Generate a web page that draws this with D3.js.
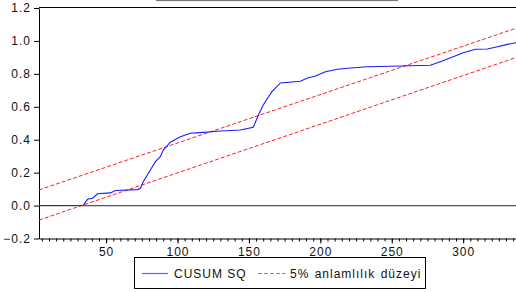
<!DOCTYPE html>
<html>
<head>
<meta charset="utf-8">
<script src="https://cdn.jsdelivr.net/npm/d3@7"></script>
<style>
  body { margin: 0; background: #fff; }
  svg { display: block; }
  text { font-family: "Liberation Sans", Arial, sans-serif; font-size: 12px; letter-spacing: 1px; fill: #111; }
</style>
</head>
<body>
<svg id="chart" width="516" height="293"></svg>
<script>
const obs = [3, 34, 37, 40.5, 44, 53, 56.5, 72, 74, 76, 81, 84.5, 88, 90, 95, 102, 109, 116, 130, 144, 153,
  156.7, 160, 163.7, 166, 172, 186, 191, 196.6, 203.6, 212, 221, 233, 256, 277, 284, 293, 300, 308.6, 317, 324, 331, 337];
const cusumSq = [0.0, 0.002, 0.038, 0.045, 0.072, 0.077, 0.092, 0.097, 0.105, 0.145, 0.216, 0.267, 0.297, 0.337, 0.385,
  0.418, 0.439, 0.443, 0.453, 0.459, 0.476, 0.55, 0.611, 0.661, 0.69, 0.745, 0.755, 0.775, 0.787, 0.813, 0.828, 0.836,
  0.843, 0.848, 0.852, 0.874, 0.904, 0.928, 0.949, 0.951, 0.965, 0.979, 0.989];

// 5% significance band (straight lines)
const bandObs = [3, 337];
const upperBand = [0.095, 1.077];
const lowerBand = [-0.088, 0.899];

const yTicks = [-0.2, 0.0, 0.2, 0.4, 0.6, 0.8, 1.0, 1.2];
const xTicks = [50, 100, 150, 200, 250, 300];
const xMinor = d3.range(5, 340, 5);

const legendLabels = ["CUSUM SQ", "5% anlamlılık düzeyi"];

const svg = d3.select('#chart');
const margin = { left: 39, top: 8, right: 516, bottom: 238.5 };

const x = d3.scaleLinear().domain([3, 337]).range([margin.left, margin.right]);
const y = d3.scaleLinear().domain([-0.2, 1.2]).range([margin.bottom, margin.top]);

// cropped title box at the top
svg.append('rect')
  .attr('x', 156.5).attr('y', -10).attr('width', 241).attr('height', 10.5)
  .attr('fill', 'none').attr('stroke', '#777').attr('stroke-width', 1.2);

// top frame
svg.append('line')
  .attr('x1', margin.left).attr('x2', margin.right)
  .attr('y1', margin.top - 0.5).attr('y2', margin.top - 0.5)
  .attr('stroke', '#000');

// zero line
svg.append('line')
  .attr('x1', margin.left).attr('x2', margin.right)
  .attr('y1', y(0)).attr('y2', y(0))
  .attr('stroke', '#555').attr('stroke-width', 1.2);

// y axis
const yAxis = svg.append('g')
  .attr('transform', `translate(${margin.left},0)`)
  .call(d3.axisLeft(y).tickValues(yTicks).tickFormat(d3.format('.1f')).tickSize(5).tickSizeOuter(0).tickPadding(3));
yAxis.select('.domain').attr('stroke', '#000');
yAxis.selectAll('text').attr('font-size', null).attr('font-family', null).attr('fill', '#111');

// x axis: minor then major ticks
svg.append('g')
  .attr('transform', `translate(0,${margin.bottom})`)
  .call(d3.axisBottom(x).tickValues(xMinor).tickSize(3).tickFormat('').tickSizeOuter(0))
  .select('.domain').attr('stroke', '#000');
const xAxis = svg.append('g')
  .attr('transform', `translate(0,${margin.bottom})`)
  .call(d3.axisBottom(x).tickValues(xTicks).tickSize(5).tickSizeOuter(0).tickPadding(4));
xAxis.select('.domain').remove();
xAxis.selectAll('text').attr('font-size', null).attr('font-family', null).attr('fill', '#111');

// band lines
const bandLine = d3.line().x((d, i) => x(bandObs[i])).y(d => y(d));
[upperBand, lowerBand].forEach(b => {
  svg.append('path')
    .attr('d', bandLine(b))
    .attr('fill', 'none')
    .attr('stroke', '#ff2020')
    .attr('stroke-width', 1)
    .attr('stroke-dasharray', '4,2');
});

// CUSUM SQ line
const line = d3.line().x((d, i) => x(obs[i])).y(d => y(d));
svg.append('path')
  .attr('d', line(cusumSq))
  .attr('fill', 'none')
  .attr('stroke', '#1a1aff')
  .attr('stroke-width', 1.1);

// legend
const lg = svg.append('g');
lg.append('rect')
  .attr('x', 134.5).attr('y', 257.5).attr('width', 291).attr('height', 31)
  .attr('fill', '#fff').attr('stroke', '#000');
lg.append('line')
  .attr('x1', 142).attr('x2', 168).attr('y1', 273.5).attr('y2', 273.5)
  .attr('stroke', '#6060ff').attr('stroke-width', 1.2);
lg.append('text').attr('x', 174).attr('y', 278).text(legendLabels[0]);
lg.append('line')
  .attr('x1', 258).attr('x2', 285).attr('y1', 273.5).attr('y2', 273.5)
  .attr('stroke', '#ff5050').attr('stroke-width', 1.2).attr('stroke-dasharray', '4,2');
lg.append('text').attr('x', 290).attr('y', 278).style('word-spacing', '1px').text(legendLabels[1]);
</script>
</body>
</html>
